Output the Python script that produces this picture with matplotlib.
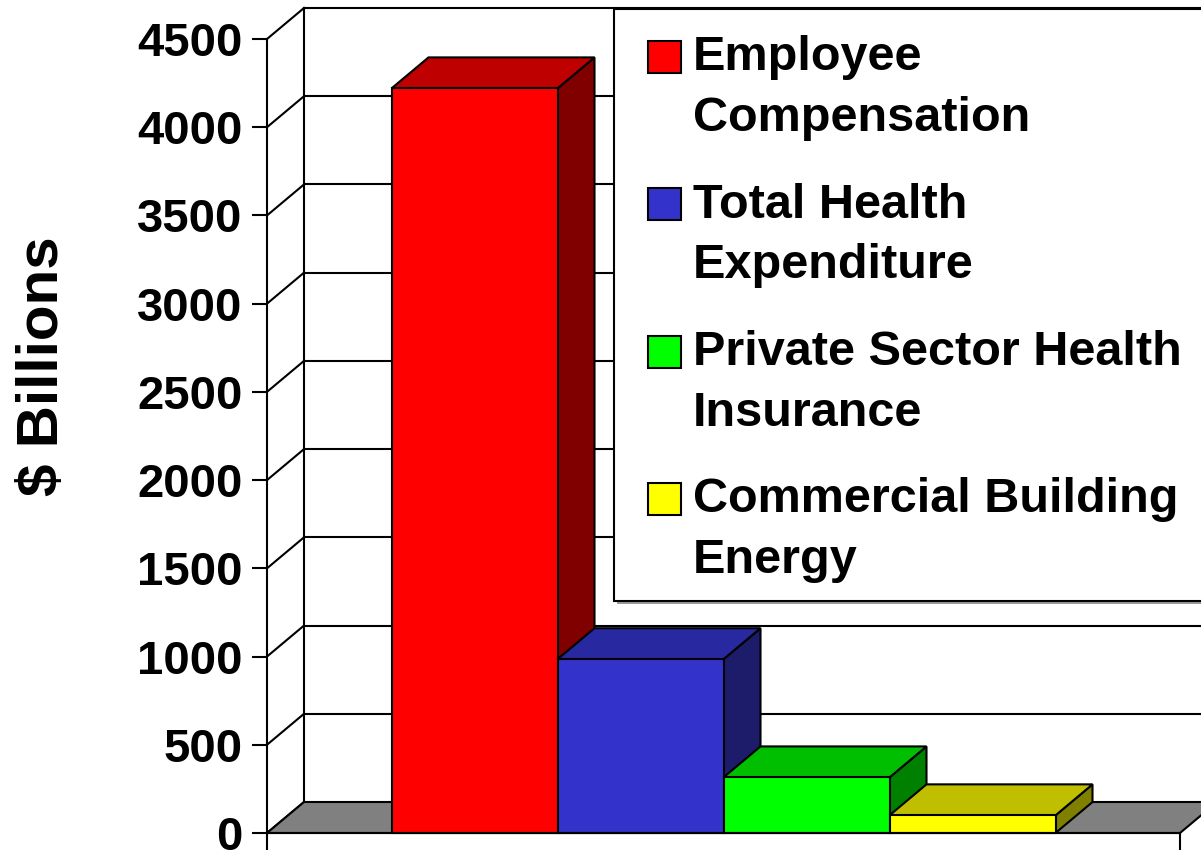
import matplotlib
matplotlib.use("Agg")
import matplotlib.pyplot as plt
from matplotlib.patches import Polygon, Rectangle

plt.rcParams['font.family'] = ['Liberation Sans', 'DejaVu Sans']
plt.rcParams['font.weight'] = 'bold'

# Series shown as one group of 3-D columns
series = ['Employee\nCompensation', 'Total Health\nExpenditure',
          'Private Sector Health\nInsurance', 'Commercial Building\nEnergy']
values = [4220, 985, 315, 100]
front_colors = ['#ff0000', '#3333cc', '#00ff00', '#ffff00']
top_colors = ['#bf0000', '#2828a0', '#00bf00', '#bfbf00']
side_colors = ['#800000', '#1c1c6a', '#008000', '#808000']
y_ticks = list(range(0, 4501, 500))

W, H = 1201, 850
LW = 1.5

fig = plt.figure(figsize=(W / 100, H / 100), dpi=100)
ax = fig.add_axes([267 / W, (H - 833) / H, (1180 - 267) / W, (833 - 39) / H])
x_max = 5.5
ax.set_xlim(0, x_max)
ax.set_ylim(0, 4500)

# depth of the 3-D box, given in pixels and turned into data units
depth_px = (37, 31)
dx = depth_px[0] * x_max / (1180 - 267)
dy = depth_px[1] * 4500 / (833 - 39)

# back wall gridlines and side wall diagonals
for v in y_ticks[1:]:
    ax.plot([dx, x_max + dx], [v + dy, v + dy], color='black', lw=LW,
            clip_on=False, zorder=1)
for v in y_ticks:
    ax.plot([0, dx], [v, v + dy], color='black', lw=LW, clip_on=False, zorder=1)
ax.plot([dx, dx], [dy, 4500 + dy], color='black', lw=LW, clip_on=False, zorder=1)

# floor
floor = Polygon([(0, 0), (x_max, 0), (x_max + dx, dy), (dx, dy)],
                closed=True, fc='#808080', ec='black', lw=LW, clip_on=False, zorder=2)
ax.add_patch(floor)

# columns, drawn left to right so each front face overlaps the previous side
for i, v in enumerate(values):
    x0 = 0.75 + i
    x1 = x0 + 1
    z = 3 + i
    side = Polygon([(x1, 0), (x1 + dx, dy), (x1 + dx, v + dy), (x1, v)],
                   closed=True, fc=side_colors[i], ec='black', lw=LW,
                   clip_on=False, zorder=z)
    top = Polygon([(x0, v), (x1, v), (x1 + dx, v + dy), (x0 + dx, v + dy)],
                  closed=True, fc=top_colors[i], ec='black', lw=LW,
                  clip_on=False, zorder=z)
    front = Rectangle((x0, 0), 1, v, fc=front_colors[i], ec='black', lw=LW,
                      clip_on=False, zorder=z)
    ax.add_patch(side)
    ax.add_patch(top)
    ax.add_patch(front)

# axes
for s in ['top', 'right']:
    ax.spines[s].set_visible(False)
for s in ['left', 'bottom']:
    ax.spines[s].set_linewidth(LW)
    ax.spines[s].set_zorder(10)
ax.set_yticks(y_ticks)
ax.tick_params(axis='y', length=10.8, width=LW, pad=7, labelsize=34)
ax.set_xticks([0, x_max])
ax.set_xticklabels([])
ax.tick_params(axis='x', length=12, width=LW)
ax.patch.set_visible(False)

fig.text(43 / W, 1 - 366 / H, '$ Billions', rotation=90, ha='center',
         va='center', fontsize=42, fontweight='bold')


def fx(px):
    return px / W


def fy(py):
    return 1 - py / H


# legend box
box_l, box_t, box_b, box_r = 614, 9, 601, 1300
shadow = Rectangle((fx(box_l + 3), fy(box_b + 3)), fx(box_r - box_l), (box_b - box_t) / H,
                   transform=fig.transFigure, fc='#9a9a9a', ec='none', zorder=20)
frame = Rectangle((fx(box_l), fy(box_b)), fx(box_r - box_l), (box_b - box_t) / H,
                  transform=fig.transFigure, fc='white', ec='black', lw=LW, zorder=21)
fig.add_artist(shadow)
fig.add_artist(frame)

# baselines of the first line of each entry; labels wrap onto a second line
first_baseline = 74
entry_step = 147.3
line_step = 57
for i, label in enumerate(series):
    base = first_baseline + i * entry_step
    sq = Rectangle((fx(648), fy(base - 1)), 33 / W, 32 / H, transform=fig.transFigure,
                   fc=front_colors[i], ec='black', lw=LW, zorder=22)
    fig.add_artist(sq)
    fig.text(fx(693), fy(base + line_step), label, ha='left', va='baseline',
             fontsize=35, fontweight='bold', linespacing=1.45, zorder=22)

fig.savefig('out.png', dpi=100)
